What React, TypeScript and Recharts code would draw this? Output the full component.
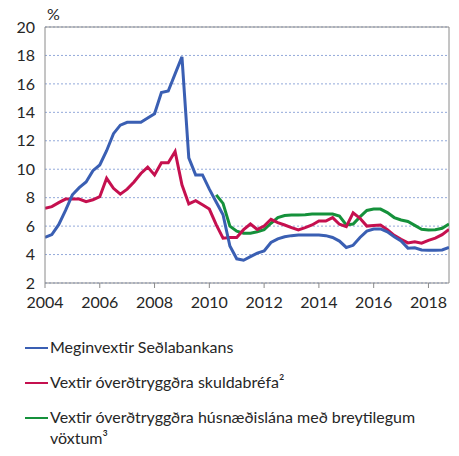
import React from 'react';
import { LineChart, Line, XAxis, YAxis, CartesianGrid, ReferenceLine } from 'recharts';

const periods = [
  2004, 2004.25, 2004.5, 2004.75, 2005, 2005.25, 2005.5, 2005.75,
  2006, 2006.25, 2006.5, 2006.75, 2007, 2007.25, 2007.5, 2007.75,
  2008, 2008.25, 2008.5, 2008.75, 2009, 2009.25, 2009.5, 2009.75,
  2010, 2010.25, 2010.5, 2010.75, 2011, 2011.25, 2011.5, 2011.75,
  2012, 2012.25, 2012.5, 2012.75, 2013, 2013.25, 2013.5, 2013.75,
  2014, 2014.25, 2014.5, 2014.75, 2015, 2015.25, 2015.5, 2015.75,
  2016, 2016.25, 2016.5, 2016.75, 2017, 2017.25, 2017.5, 2017.75,
  2018, 2018.25, 2018.5, 2018.75,
];

const policyRate = [
  5.2, 5.4, 6.1, 7.1, 8.2, 8.7, 9.1, 9.9,
  10.3, 11.3, 12.5, 13.1, 13.3, 13.3, 13.3, 13.6,
  13.9, 15.4, 15.5, 16.7, 17.9, 10.8, 9.6, 9.6,
  8.6, 7.7, 6.8, 4.6, 3.7, 3.6, 3.85, 4.1,
  4.25, 4.85, 5.1, 5.25, 5.33, 5.37, 5.37, 5.37,
  5.37, 5.33, 5.2, 4.95, 4.5, 4.65, 5.2, 5.65,
  5.8, 5.8, 5.6, 5.25, 4.95, 4.45, 4.48, 4.32,
  4.3, 4.3, 4.32, 4.5,
];

const bondRate = [
  7.25, 7.37, 7.65, 7.9, 7.9, 7.9, 7.72, 7.85,
  8.07, 9.36, 8.66, 8.25, 8.6, 9.1, 9.7, 10.15,
  9.6, 10.46, 10.46, 11.25, 8.9, 7.56, 7.79, 7.5,
  7.2, 6.1, 5.15, 5.2, 5.2, 5.75, 6.15, 5.77,
  6.0, 6.48, 6.24, 6.08, 5.9, 5.73, 5.89, 6.08,
  6.36, 6.36, 6.6, 6.13, 5.96, 6.94, 6.55, 6.0,
  6.05, 6.08, 5.75, 5.35, 5.07, 4.82, 4.9, 4.8,
  5.0, 5.15, 5.4, 5.77,
];

const mortgageRate: (number | null)[] = [
  null, null, null, null, null, null, null, null,
  null, null, null, null, null, null, null, null,
  null, null, null, null, null, null, null, null,
  null, 8.2, 7.6, 6.0, 5.65, 5.5, 5.5, 5.6,
  5.75, 6.2, 6.6, 6.75, 6.78, 6.78, 6.8, 6.85,
  6.85, 6.85, 6.85, 6.7, 6.08, 6.15, 6.65, 7.1,
  7.2, 7.2, 6.95, 6.6, 6.43, 6.33, 6.05, 5.78,
  5.73, 5.75, 5.85, 6.15,
];

const xTicks = [2004, 2006, 2008, 2010, 2012, 2014, 2016, 2018];
const yTicks = [2, 4, 6, 8, 10, 12, 14, 16, 18, 20];

const seriesNames = [
  'Meginvextir Seðlabankans',
  'Vextir óverðtryggðra skuldabréfa²',
  'Vextir óverðtryggðra húsnæðislána með breytilegum vöxtum³',
];
const seriesColors = ['#3a5fb3', '#c5104f', '#15913b'];
const unitLabel = '%';

const data = periods.map((p, i) => ({
  t: p,
  a: policyRate[i],
  b: bondRate[i],
  c: mortgageRate[i],
}));

const FONT = 'Lato, "Open Sans", sans-serif';
const frame = '#8a8a8a';

export default function App() {
  return (
    <div style={{ position: 'absolute', left: 0, top: 0, width: 459, height: 456, background: '#fff', fontFamily: FONT }}>
      <div style={{ position: 'absolute', left: 47, top: 4, fontSize: 16, color: '#262626' }}>{unitLabel}</div>
      <LineChart
        width={459}
        height={456}
        data={data}
        margin={{ top: 27, right: 10, left: 0, bottom: 143 }}
        style={{ fontFamily: FONT }}
      >
        <CartesianGrid horizontal vertical={false} stroke="#93a9da" strokeDasharray="2 2" />
        <XAxis
          dataKey="t"
          type="number"
          domain={[2004, 2018.75]}
          ticks={xTicks}
          height={30}
          tickSize={5}
          tickMargin={9}
          stroke={frame}
          tick={{ fill: '#262626', fontSize: 16 }}
          interval={0}
          allowDataOverflow
        />
        <YAxis
          type="number"
          domain={[2, 20]}
          ticks={yTicks}
          width={45}
          tickLine={false}
          tickSize={6}
          tickMargin={4}
          stroke={frame}
          tick={{ fill: '#262626', fontSize: 16 }}
          interval={0}
          allowDataOverflow
        />
        <ReferenceLine y={20} stroke={frame} />
        <ReferenceLine x={2018.75} stroke={frame} />
        <Line dataKey="c" stroke={seriesColors[2]} strokeWidth={3} dot={false} isAnimationActive={false} connectNulls={false} />
        <Line dataKey="b" stroke={seriesColors[1]} strokeWidth={3} dot={false} isAnimationActive={false} />
        <Line dataKey="a" stroke={seriesColors[0]} strokeWidth={3} dot={false} isAnimationActive={false} />
      </LineChart>
      <div style={{ position: 'absolute', left: 25, top: 336, width: 425, fontSize: 16, color: '#262626' }}>
        {seriesNames.map((name, i) => (
          <div key={name} style={{ display: 'flex', alignItems: 'flex-start', marginBottom: 14, lineHeight: '21px' }}>
            <span style={{ display: 'inline-block', width: 23, height: 2, background: seriesColors[i], marginTop: 11, flex: '0 0 auto' }} />
            <span style={{ marginLeft: 2 }}>{name}</span>
          </div>
        ))}
      </div>
    </div>
  );
}
